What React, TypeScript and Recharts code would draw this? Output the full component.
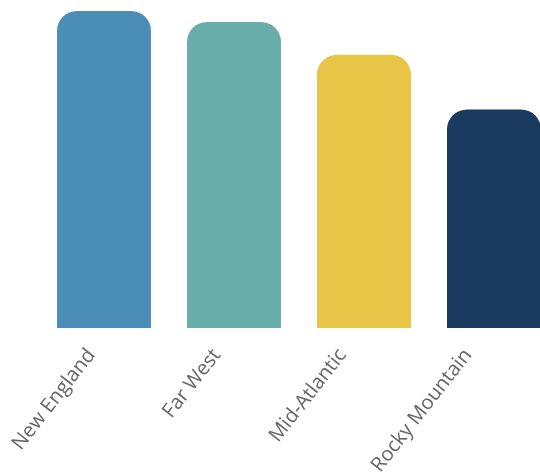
import React from "react";
import { BarChart, Bar, XAxis, YAxis, Cell } from "recharts";

const regions = ["New England", "Far West", "Mid-Atlantic", "Rocky Mountain"];
const values = [29, 28, 25, 20];
const colors = ["#4a8db7", "#69aeaa", "#e8c547", "#1b3a5f"];

const data = regions.map((r, i) => ({ region: r, value: values[i] }));

const Tick = (props: any) => {
  const { x, y, payload, index } = props;
  const shift = -8 - (index || 0) * 4.5;
  return (
    <g transform={`translate(${x + shift},${y + 19})`}>
      <text
        x={0}
        y={0}
        textAnchor="end"
        fill="#666"
        fontSize={20}
        fontFamily="'Open Sans', sans-serif"
        transform="rotate(-52)"
      >
        {payload.value}
      </text>
    </g>
  );
};

export default function App() {
  return (
    <div
      style={{
        position: "fixed",
        left: 0,
        top: 0,
        width: 540,
        height: 475,
        overflow: "hidden",
      }}
    >
      <BarChart
        width={580}
        height={475}
        data={data}
        margin={{ top: 11, right: 21, bottom: 7, left: 39 }}
        barCategoryGap={18}
      >
        <XAxis
          dataKey="region"
          axisLine={false}
          tickLine={false}
          height={140}
          interval={0}
          tick={<Tick />}
        />
        <YAxis hide domain={[0, 29]} />
        <Bar dataKey="value" radius={[20, 20, 0, 0]} isAnimationActive={false}>
          {data.map((d, i) => (
            <Cell key={d.region} fill={colors[i]} />
          ))}
        </Bar>
      </BarChart>
    </div>
  );
}
